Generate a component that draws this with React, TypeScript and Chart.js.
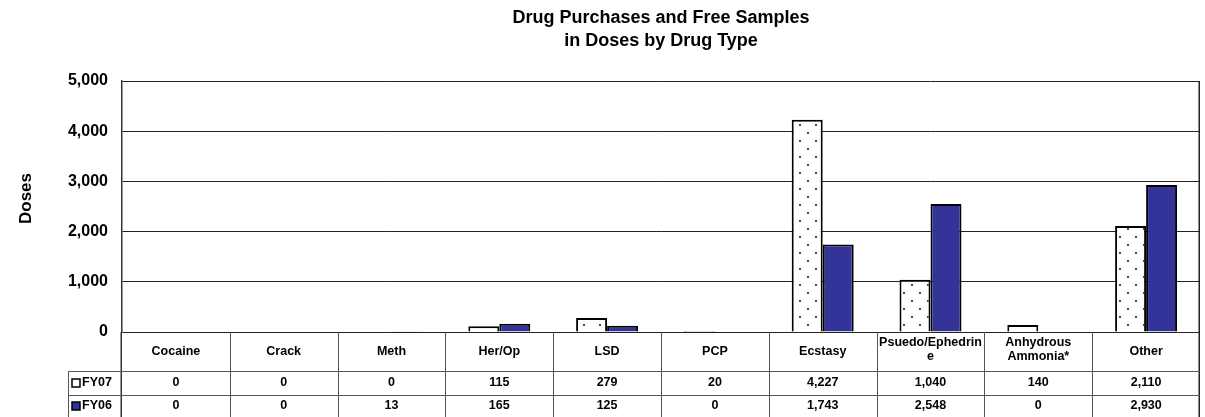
import React, { useEffect, useRef } from 'react';
import { Chart, registerables } from 'chart.js';

Chart.register(...registerables);

const categoryLines: string[][] = [
  ['Cocaine'],
  ['Crack'],
  ['Meth'],
  ['Her/Op'],
  ['LSD'],
  ['PCP'],
  ['Ecstasy'],
  ['Psuedo/Ephedrin', 'e'],
  ['Anhydrous', 'Ammonia*'],
  ['Other'],
];
const categories = categoryLines.map((l) => l.join(''));
const fy07Values = [0, 0, 0, 115, 279, 20, 4227, 1040, 140, 2110];
const fy06Values = [0, 0, 13, 165, 125, 0, 1743, 2548, 0, 2930];
const seriesNames = ['FY07', 'FY06'];
const yAxisTitle = 'Doses';
const yMin = 0;
const yMax = 5000;
const yStep = 1000;

const FONT = '"Liberation Sans", Arial, Helvetica, sans-serif';
const FY06_COLOR = '#333399';

const fmt = (v: number) => v.toLocaleString('en-US');

function makeDotPattern(ctx: CanvasRenderingContext2D): CanvasPattern | string {
  const pc = document.createElement('canvas');
  pc.width = 16;
  pc.height = 16;
  const p = pc.getContext('2d');
  if (!p) return '#ffffff';
  p.fillStyle = '#ffffff';
  p.fillRect(0, 0, 16, 16);
  p.fillStyle = '#4a4a4a';
  p.fillRect(15, 12, 1, 2);
  p.fillRect(0, 12, 1, 2);
  p.fillRect(7, 4, 2, 2);
  return ctx.createPattern(pc, 'repeat') || '#ffffff';
}

const tablePlugin = {
  id: 'dataTable',
  afterDraw(chart: any) {
    const ctx: CanvasRenderingContext2D = chart.ctx;
    const { left, right, top, bottom } = chart.chartArea;
    const xs = chart.scales.x;
    const n = categories.length;
    const cw = (right - left) / n;
    const r0 = bottom;
    const r1 = bottom + 39;
    const r2 = bottom + 63;
    const r3 = bottom + 85;
    const legendLeft = left - 54;

    ctx.save();
    // y axis title
    ctx.save();
    ctx.translate(26, (top + bottom) / 2 - 8);
    ctx.rotate(-Math.PI / 2);
    ctx.fillStyle = '#000';
    ctx.textAlign = 'center';
    ctx.textBaseline = 'middle';
    ctx.font = `bold 17px ${FONT}`;
    ctx.fillText(yAxisTitle, 0, 0);
    ctx.restore();

    // right border of plot
    ctx.strokeStyle = '#222';
    ctx.lineWidth = 1.5;
    ctx.beginPath();
    ctx.moveTo(right - 0.75, top);
    ctx.lineTo(right - 0.75, r3);
    ctx.stroke();

    // left edge of table (continuation of the y axis line)
    ctx.strokeStyle = '#333';
    ctx.lineWidth = 1.5;
    ctx.beginPath();
    ctx.moveTo(left - 0.75, r0);
    ctx.lineTo(left - 0.75, r3);
    ctx.stroke();

    // table grid
    ctx.strokeStyle = '#555';
    ctx.lineWidth = 1;
    ctx.beginPath();
    for (let i = 1; i < n; i++) {
      const x = Math.round(xs.getPixelForValue(i) - cw / 2) + 0.5;
      ctx.moveTo(x, r0);
      ctx.lineTo(x, r3);
    }
    [r1, r2].forEach((y) => {
      ctx.moveTo(legendLeft, Math.round(y) + 0.5);
      ctx.lineTo(right, Math.round(y) + 0.5);
    });
    ctx.moveTo(legendLeft + 0.5, r1);
    ctx.lineTo(legendLeft + 0.5, r3);
    ctx.stroke();

    // category labels
    ctx.fillStyle = '#000';
    ctx.textAlign = 'center';
    ctx.textBaseline = 'middle';
    ctx.font = `bold 12.5px ${FONT}`;
    const lh = 14;
    categoryLines.forEach((lines, i) => {
      const cx = xs.getPixelForValue(i);
      const cy = (r0 + r1) / 2;
      const start = cy - ((lines.length - 1) * lh) / 2 - (lines.length > 1 ? 2 : 0);
      lines.forEach((t, j) => ctx.fillText(t, cx, start + j * lh));
    });

    // values
    const rows = [fy07Values, fy06Values];
    const rowCenters = [(r1 + r2) / 2, (r2 + r3) / 2];
    rows.forEach((vals, ri) => {
      vals.forEach((v, i) => {
        ctx.fillText(fmt(v), xs.getPixelForValue(i), rowCenters[ri]);
      });
    });

    // legend keys
    ctx.textAlign = 'left';
    const keyFills = ['#ffffff', FY06_COLOR];
    seriesNames.forEach((name, ri) => {
      const cy = rowCenters[ri];
      ctx.fillStyle = keyFills[ri];
      ctx.fillRect(legendLeft + 4, cy - 4, 8, 8);
      ctx.strokeStyle = '#000';
      ctx.lineWidth = 1.5;
      ctx.strokeRect(legendLeft + 4, cy - 4, 8, 8);
      ctx.fillStyle = '#000';
      ctx.fillText(name, legendLeft + 14, cy);
    });
    ctx.restore();
  },
};

export default function App() {
  const canvasRef = useRef<HTMLCanvasElement | null>(null);

  useEffect(() => {
    const canvas = canvasRef.current;
    if (!canvas) return;
    const ctx = canvas.getContext('2d');
    if (!ctx) return;
    const pattern = makeDotPattern(ctx);

    const chart = new Chart(ctx, {
      type: 'bar',
      data: {
        labels: categories,
        datasets: [
          {
            label: seriesNames[0],
            data: fy07Values,
            backgroundColor: pattern as any,
            borderColor: '#000',
            borderWidth: 2,
            categoryPercentage: 0.575,
            barPercentage: 1,
          },
          {
            label: seriesNames[1],
            data: fy06Values,
            backgroundColor: FY06_COLOR,
            borderColor: '#000',
            borderWidth: 2,
            categoryPercentage: 0.575,
            barPercentage: 1,
          },
        ],
      },
      options: {
        responsive: false,
        animation: false,
        devicePixelRatio: 1,
        layout: { padding: { top: 0, left: 0, right: 5, bottom: 85 } },
        plugins: {
          legend: { display: false },
          tooltip: { enabled: false },
          title: {
            display: true,
            fullSize: false,
            text: ['Drug Purchases and Free Samples', 'in Doses by Drug Type'],
            color: '#000',
            font: { family: FONT, size: 18, weight: 'bold', lineHeight: 23 / 18 },
            padding: { top: 7, bottom: 28 },
          },
        },
        scales: {
          x: {
            type: 'category',
            display: false,
          },
          y: {
            min: yMin,
            max: yMax,
            afterFit: (s: any) => {
              s.width = 122;
            },
            ticks: {
              stepSize: yStep,
              padding: 14,
              color: '#000',
              font: { family: FONT, size: 16, weight: 'bold' },
              callback: (v: any) => fmt(Number(v)),
            },
            grid: { color: '#222', lineWidth: 1, drawTicks: false },
            border: { display: true, color: '#333', width: 1.5 },
          },
        },
      },
      plugins: [tablePlugin],
    });
    return () => chart.destroy();
  }, []);

  return (
    <div style={{ position: 'absolute', left: 0, top: 0, width: 1205, height: 417, background: '#fff' }}>
      <canvas ref={canvasRef} width={1205} height={417} style={{ display: 'block' }} />
    </div>
  );
}
